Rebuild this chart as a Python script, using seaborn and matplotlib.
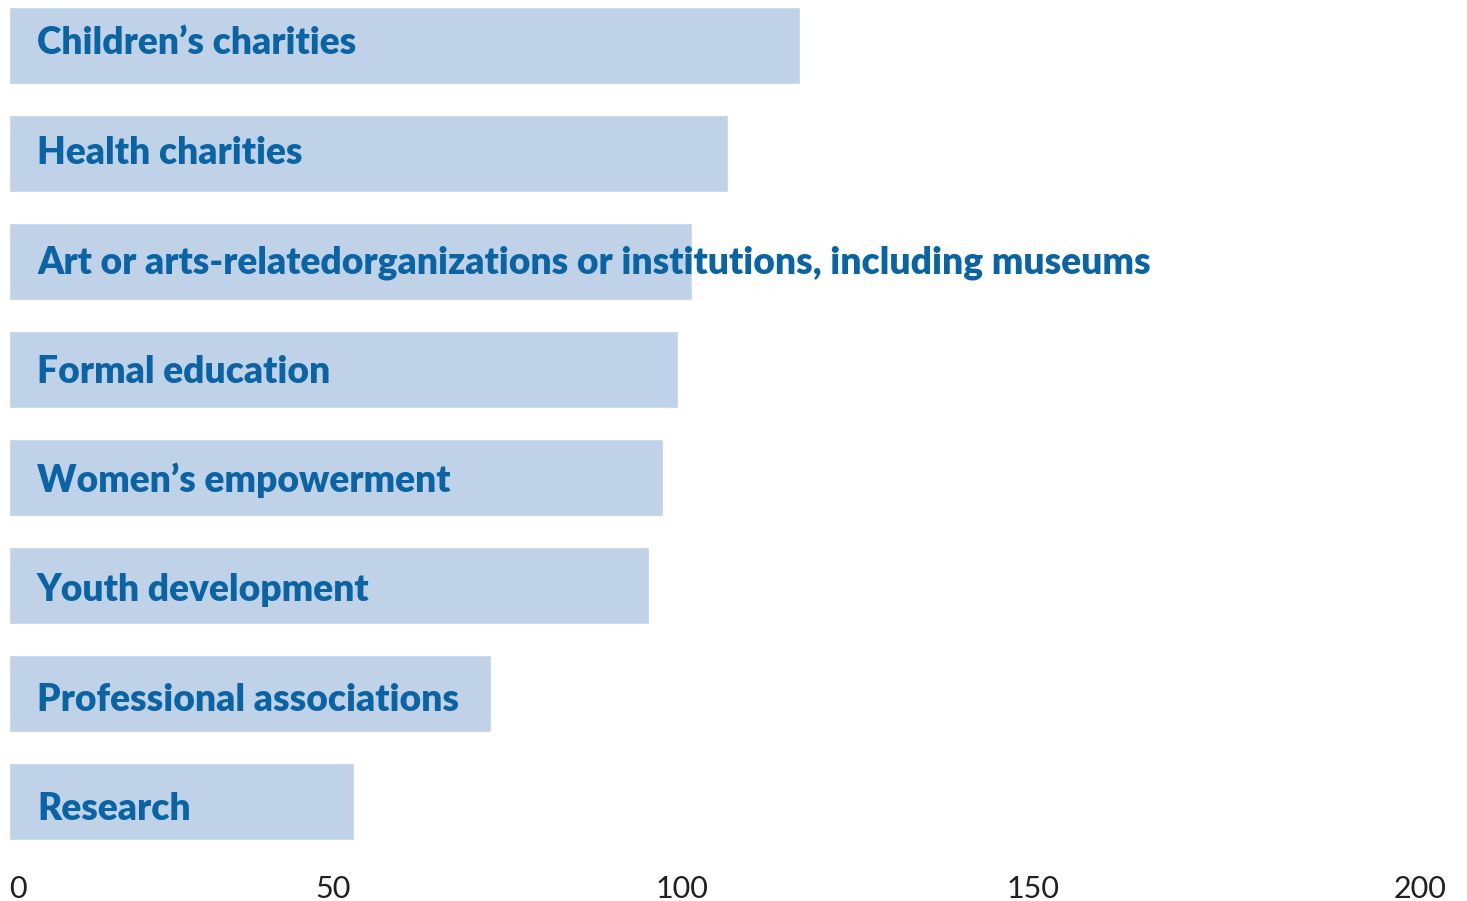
import matplotlib
matplotlib.use("Agg")
import matplotlib.pyplot as plt
import matplotlib.transforms as mtransforms
import pandas as pd
import seaborn as sns

categories = [
    "Children’s charities",
    "Health charities",
    "Art or arts-relatedorganizations or institutions, including museums",
    "Formal education",
    "Women’s empowerment",
    "Youth development",
    "Professional associations",
    "Research",
]
values = [110, 100, 95, 93, 91, 89, 67, 48]
tick_values = [0, 50, 100, 150, 200]
tick_labels = ["0", "50", "100", "150", "200"]

BAR_COLOR = "#BFD2E8"
TEXT_BLUE = "#0A64A3"
TICK_COLOR = "#231F20"

sns.set_theme(style="white")
plt.rcParams["font.family"] = ["Lato", "DejaVu Sans"]

df = pd.DataFrame({"category": categories, "value": values})

W, H = 1467, 901
fig = plt.figure(figsize=(W / 100, H / 100), dpi=100)
ax = fig.add_axes([9 / W, 1 - 840 / H, (1447 - 9) / W, (840 - 7) / H])

sns.barplot(data=df, x="value", y="category", orient="h", color=BAR_COLOR,
            saturation=1, width=0.714, ax=ax)
ax.set_xlim(0, 200)
ax.set_ylim(len(categories) - 1 + 0.357, -0.357)

# category names written inside the bars, line spacing a touch looser than the bars
for i, name in enumerate(categories):
    ax.annotate(name, xy=(0, i), xytext=(28, -8.5 - 1.5 * i), textcoords="offset pixels",
                ha="left", va="baseline", fontsize=26.7, fontweight="heavy",
                color=TEXT_BLUE, annotation_clip=False)

ax.set_yticks([])
ax.set_ylabel("")
ax.set_xlabel("")
ax.set_xticks(tick_values, tick_labels)
ax.tick_params(axis="x", length=0, pad=25, labelsize=22, labelcolor=TICK_COLOR)
for side in ax.spines.values():
    side.set_visible(False)

# edge labels kept inside the plotting width, inner labels nudged left
shifts = [0, -35.5, -46, -54.5, 0]
aligns = ["left", "center", "center", "center", "right"]
for lab, dx, ha in zip(ax.get_xticklabels(), shifts, aligns):
    lab.set_ha(ha)
    lab.set_transform(lab.get_transform() +
                      mtransforms.ScaledTranslation(dx / 100, 0, fig.dpi_scale_trans))

fig.savefig("out.png", dpi=100, facecolor="white")
